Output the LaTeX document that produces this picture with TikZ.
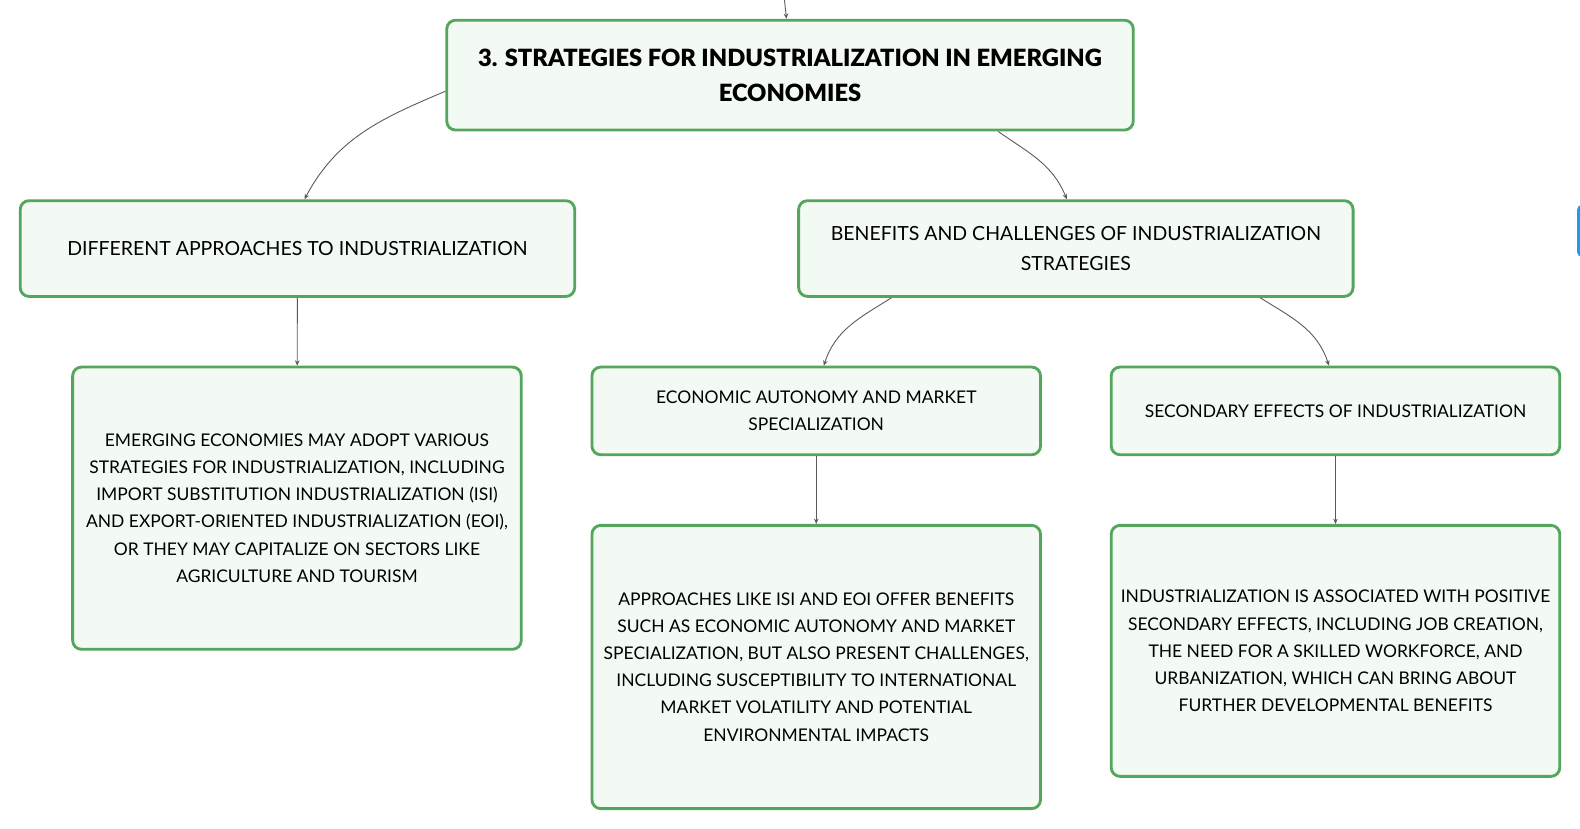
\documentclass[tikz,border=0pt]{standalone}
\usepackage{fontspec}
\setmainfont{Lato}
\newfontfamily\heavyfont{Lato Black}
\usetikzlibrary{arrows.meta,calc}

\definecolor{boxgreen}{RGB}{84,166,92}
\definecolor{boxfill}{RGB}{242,250,243}
\definecolor{linkgray}{RGB}{90,90,90}
\definecolor{tabblue}{RGB}{33,150,243}

\tikzset{
  topicbox/.style={draw=boxgreen, fill=boxfill, line width=1.6pt, rounded corners=5pt,
    align=center, inner sep=0pt, font=\fontsize{9.85}{15.3}\selectfont},
  subtopic/.style={topicbox, font=\fontsize{11}{17}\selectfont},
  link/.style={draw=linkgray, line width=0.5pt, -{Stealth[length=3pt,width=2.6pt]}}
}

\begin{document}
\begin{tikzpicture}[x=0.02cm,y=-0.02cm]
                \useasboundingbox (0,0) rectangle (1567,822);
                \fill[white] (0,0) rectangle (1567,822);

                \node[topicbox, minimum width=13.62cm, minimum height=2.18cm,
                      font=\fontsize{13.4}{19.8}\selectfont\heavyfont] (title) at (783.5,74.5)
                      {3. STRATEGIES FOR INDUSTRIALIZATION IN EMERGING\\ECONOMIES};

                \node[subtopic, minimum width=11cm, minimum height=1.9cm] (approach) at (295,246.5)
                      {DIFFERENT APPROACHES TO INDUSTRIALIZATION};
                \node[subtopic, minimum width=11cm, minimum height=1.9cm] (benefit) at (1067,246.5)
                      {BENEFITS AND CHALLENGES OF INDUSTRIALIZATION\\STRATEGIES};

                \node[topicbox, minimum width=8.9cm, minimum height=5.6cm] (approachtxt) at (294.5,504)
                      {EMERGING ECONOMIES MAY ADOPT VARIOUS\\STRATEGIES FOR INDUSTRIALIZATION, INCLUDING\\IMPORT SUBSTITUTION INDUSTRIALIZATION (ISI)\\AND EXPORT-ORIENTED INDUSTRIALIZATION (EOI),\\OR THEY MAY CAPITALIZE ON SECTORS LIKE\\AGRICULTURE AND TOURISM};

                \node[topicbox, minimum width=8.9cm, minimum height=1.74cm] (autonomy) at (809.5,407.5)
                      {ECONOMIC AUTONOMY AND MARKET\\SPECIALIZATION};
                \node[topicbox, minimum width=8.9cm, minimum height=1.74cm] (secondary) at (1324.5,407.5)
                      {SECONDARY EFFECTS OF INDUSTRIALIZATION};

                \node[topicbox, minimum width=8.9cm, minimum height=5.62cm] (autonomytxt) at (809.5,661.5)
                      {APPROACHES LIKE ISI AND EOI OFFER BENEFITS\\SUCH AS ECONOMIC AUTONOMY AND MARKET\\SPECIALIZATION, BUT ALSO PRESENT CHALLENGES,\\INCLUDING SUSCEPTIBILITY TO INTERNATIONAL\\MARKET VOLATILITY AND POTENTIAL\\ENVIRONMENTAL IMPACTS};
                \node[topicbox, minimum width=8.9cm, minimum height=4.98cm] (secondarytxt) at (1324.5,645.5)
                      {INDUSTRIALIZATION IS ASSOCIATED WITH POSITIVE\\SECONDARY EFFECTS, INCLUDING JOB CREATION,\\THE NEED FOR A SKILLED WORKFORCE, AND\\URBANIZATION, WHICH CAN BRING ABOUT\\FURTHER DEVELOPMENTAL BENEFITS};

                % links
                \coordinate (parent) at (778,0);
                \draw[link] (parent) -- ([xshift=-0.07cm]title.north);
                \draw[link] ([yshift=-0.32cm]title.west) to[out=203,in=62] ([xshift=0.14cm]approach.north);
                \draw[link] ([xshift=4.13cm]title.south) to[out=-35,in=112] ([xshift=-0.18cm]benefit.north);
                \draw[link] (approach) -- (approachtxt);
                \draw[link] ([xshift=-3.66cm]benefit.south) to[out=-148,in=72] ([xshift=0.15cm]autonomy.north);
                \draw[link] ([xshift=3.66cm]benefit.south) to[out=-32,in=108] ([xshift=-0.13cm]secondary.north);
                \draw[link] (autonomy) -- (autonomytxt);
                \draw[link] (secondary) -- (secondarytxt);

                \begin{scope}
                  \clip (0,0) rectangle (1567,822);
                  \fill[tabblue, rounded corners=3pt] (1564,203) rectangle (1582,255);
                \end{scope}
            \end{tikzpicture}
\end{document}
